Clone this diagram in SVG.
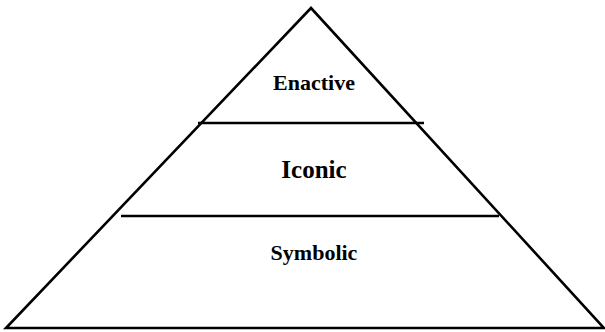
<svg xmlns="http://www.w3.org/2000/svg" width="605" height="332" viewBox="0 0 605 332">
<style>
.ln{stroke:#000;stroke-width:2.6;fill:none;stroke-linejoin:miter}
.t{font-family:"Liberation Serif","Times New Roman",serif;font-weight:bold;fill:#000;text-anchor:middle}
</style>
<rect width="605" height="332" fill="#fff"/>
<g id="pyramid">
<polygon class="ln" points="311,8 6,328 604,328"/>
</g>
<g id="connectors">
<line class="ln" x1="198" y1="123" x2="424" y2="123"/>
<line class="ln" x1="121" y1="216" x2="499" y2="216"/>
</g>
<g id="enactive"><text class="t" x="314" y="90" font-size="22">Enactive</text></g>
<g id="iconic"><text class="t" x="314" y="178" font-size="25">Iconic</text></g>
<g id="symbolic"><text class="t" x="314" y="260" font-size="22">Symbolic</text></g>
</svg>
